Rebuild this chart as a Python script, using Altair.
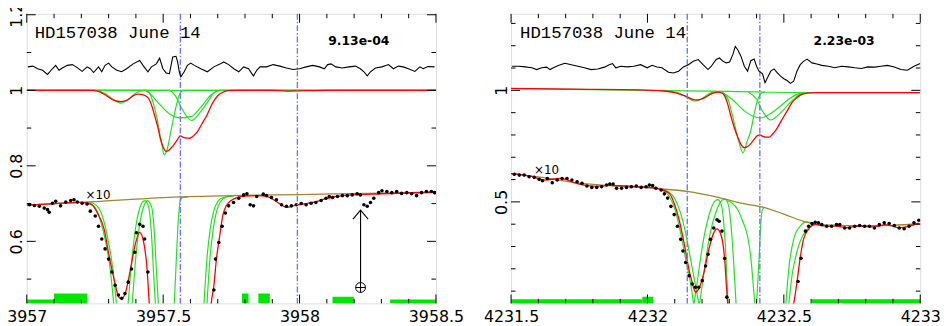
import altair as alt
import pandas as pd

FONT = "DejaVu Sans"
MONO = "Liberation Mono"
RED = "#ff0000"
GREEN = "#22e222"
BAR = "#00e600"
BLUE = "#7474ff"
OLIVE = "#a08530"
W, H = 414, 293

# ================= Left panel =================
L_xdom = [3957.0, 3958.5]
L_ydom = [0.4357, 1.2025]
L_xlabels = [3957.0, 3957.5, 3958.0, 3958.5]
L_ylabels = [0.6, 0.8, 1.0, 1.2]
L_xminor = [3957.1, 3957.2, 3957.3, 3957.4, 3957.6, 3957.7, 3957.8, 3957.9,
            3958.1, 3958.2, 3958.3, 3958.4]
L_yminor = [0.5, 0.7, 0.9, 1.1]
L_vlines = [3957.563, 3957.992]

L_resid = [(3957.004,1.062),(3957.022,1.064),(3957.040,1.057),(3957.058,1.053),(3957.076,1.042),(3957.094,1.057),
 (3957.106,1.066),(3957.118,1.053),(3957.130,1.059),(3957.149,1.066),(3957.167,1.068),(3957.185,1.060),
 (3957.203,1.050),(3957.221,1.062),(3957.233,1.057),(3957.245,1.047),(3957.263,1.062),(3957.275,1.049),
 (3957.287,1.066),(3957.300,1.072),(3957.312,1.062),(3957.330,1.053),(3957.348,1.049),(3957.366,1.057),
 (3957.390,1.070),(3957.414,1.079),(3957.426,1.066),(3957.444,1.049),(3957.457,1.062),(3957.475,1.070),
 (3957.487,1.085),(3957.499,1.057),(3957.511,1.046),(3957.523,1.044),(3957.535,1.088),(3957.547,1.090),
 (3957.553,1.075),(3957.559,1.049),(3957.565,1.036),(3957.577,1.049),(3957.589,1.066),(3957.601,1.072),
 (3957.614,1.066),(3957.638,1.057),(3957.662,1.049),(3957.686,1.062),(3957.710,1.070),(3957.722,1.075),
 (3957.740,1.068),(3957.759,1.057),(3957.777,1.049),(3957.795,1.062),(3957.813,1.057),(3957.825,1.044),
 (3957.831,1.038),(3957.843,1.053),(3957.855,1.062),(3957.879,1.062),(3957.903,1.068),(3957.928,1.064),
 (3957.952,1.059),(3957.976,1.055),(3958.000,1.057),(3958.024,1.062),(3958.048,1.066),(3958.073,1.062),
 (3958.091,1.057),(3958.103,1.068),(3958.115,1.070),(3958.133,1.062),(3958.157,1.059),(3958.181,1.062),
 (3958.205,1.064),(3958.223,1.057),(3958.236,1.049),(3958.248,1.038),(3958.260,1.049),(3958.278,1.059),
 (3958.302,1.062),(3958.326,1.068),(3958.344,1.057),(3958.362,1.064),(3958.380,1.062),(3958.399,1.057),
 (3958.423,1.050),(3958.441,1.062),(3958.453,1.057),(3958.471,1.063),(3958.495,1.062)]

L_model = [(3957.0,1.0),(3957.243,1.0),(3957.27,0.995),(3957.293,0.985),(3957.319,0.974),(3957.344,0.970),
 (3957.370,0.975),(3957.391,0.986),(3957.409,0.990),(3957.428,0.988),(3957.446,0.979),(3957.460,0.955),
 (3957.471,0.927),(3957.482,0.898),(3957.489,0.874),(3957.500,0.850),(3957.511,0.838),(3957.522,0.842),
 (3957.536,0.853),(3957.551,0.868),(3957.562,0.879),(3957.580,0.874),(3957.598,0.873),(3957.612,0.880),
 (3957.627,0.892),(3957.645,0.915),(3957.659,0.932),(3957.681,0.966),(3957.699,0.985),(3957.714,0.993),
 (3957.739,0.999),(3957.764,1.0),(3957.90,1.0),(3957.95,0.998),(3958.02,0.999),(3958.1,1.0),(3958.5,1.0)]

L_comp_a = [(3957.0,1.0),(3957.25,1.0),(3957.29,0.990),(3957.32,0.974),(3957.344,0.966),(3957.37,0.974),
 (3957.395,0.990),(3957.43,1.0),(3958.5,1.0)]
L_comp_b = [(3957.0,1.0),(3957.44,1.0),(3957.455,0.985),(3957.477,0.927),(3957.495,0.857),(3957.504,0.829),
 (3957.513,0.840),(3957.531,0.901),(3957.549,0.962),(3957.562,0.992),(3957.574,1.0),(3958.5,1.0)]
L_comp_c = [(3957.0,1.0),(3957.43,1.0),(3957.453,0.990),(3957.483,0.966),(3957.519,0.940),(3957.562,0.927),
 (3957.604,0.931),(3957.640,0.957),(3957.676,0.988),(3957.71,1.0),(3958.5,1.0)]
L_comp_d = [(3957.0,1.0),(3957.52,1.0),(3957.545,0.985),(3957.567,0.953),(3957.604,0.920),(3957.634,0.940),
 (3957.664,0.970),(3957.695,0.998),(3957.72,1.0),(3958.5,1.0)]

L_cont10 = [(3957.0,0.696),(3957.25,0.705),(3957.5,0.716),(3957.75,0.721),(3958.0,0.724),(3958.25,0.727),(3958.5,0.730)]
L_model10 = [(3957.0,0.696),(3957.1,0.700),(3957.2,0.703),(3957.236,0.698),(3957.260,0.674),(3957.284,0.631),
 (3957.302,0.561),(3957.320,0.500),(3957.338,0.452),(3957.347,0.448),(3957.362,0.465),(3957.380,0.526),
 (3957.399,0.596),(3957.414,0.624),(3957.429,0.596),(3957.441,0.526),(3957.449,0.435),(3957.455,0.38),
 (3957.67,0.38),(3957.676,0.435),(3957.686,0.483),(3957.695,0.552),(3957.707,0.613),(3957.718,0.666),
 (3957.737,0.700),(3957.761,0.713),(3957.797,0.720),(3957.85,0.721),(3957.879,0.719),(3957.916,0.705),
 (3957.952,0.690),(3957.988,0.696),(3958.024,0.700),(3958.060,0.705),(3958.097,0.713),(3958.145,0.720),
 (3958.3,0.726),(3958.5,0.730)]
L_g10_1 = [(3957.22,0.704),(3957.25,0.690),(3957.27,0.655),(3957.29,0.596),(3957.305,0.530),(3957.318,0.440),(3957.325,0.38)]
L_g10_2 = [(3957.23,0.705),(3957.26,0.692),(3957.28,0.660),(3957.30,0.596),(3957.315,0.530),(3957.328,0.440),(3957.335,0.38)]
L_g10_3 = [(3957.365,0.38),(3957.372,0.44),(3957.385,0.55),(3957.40,0.64),(3957.415,0.69),(3957.432,0.708),
 (3957.447,0.69),(3957.457,0.62),(3957.466,0.50),(3957.471,0.44),(3957.475,0.38)]
L_g10_4 = [(3957.38,0.38),(3957.387,0.44),(3957.40,0.56),(3957.415,0.65),(3957.43,0.695),(3957.442,0.708),
 (3957.458,0.69),(3957.468,0.62),(3957.477,0.50),(3957.482,0.44),(3957.486,0.38)]
L_g10_5 = [(3957.535,0.38),(3957.541,0.44),(3957.548,0.55),(3957.555,0.65),(3957.562,0.705),(3957.57,0.716),(3957.59,0.717)]
L_g10_6 = [(3957.645,0.38),(3957.650,0.44),(3957.660,0.55),(3957.672,0.63),(3957.685,0.68),(3957.70,0.705),(3957.72,0.716),(3957.75,0.720)]
L_g10_7 = [(3957.656,0.38),(3957.661,0.44),(3957.671,0.55),(3957.683,0.63),(3957.696,0.68),(3957.71,0.705),(3957.73,0.717),(3957.76,0.720)]

L_dots10 = [(3957.010,0.697),(3957.028,0.695),(3957.046,0.693),(3957.064,0.688),(3957.076,0.684),(3957.082,0.677),
 (3957.094,0.701),(3957.106,0.706),(3957.124,0.694),(3957.143,0.704),(3957.161,0.708),(3957.173,0.710),
 (3957.185,0.704),(3957.203,0.701),(3957.221,0.699),(3957.233,0.680),(3957.251,0.667),(3957.263,0.640),
 (3957.275,0.606),(3957.287,0.580),(3957.300,0.553),(3957.312,0.519),(3957.324,0.484),(3957.336,0.458),
 (3957.348,0.449),(3957.360,0.462),(3957.372,0.492),(3957.384,0.527),(3957.396,0.571),(3957.402,0.623),
 (3957.414,0.645),(3957.426,0.640),(3957.432,0.606),(3957.444,0.519),(3957.686,0.471),(3957.692,0.553),
 (3957.704,0.597),(3957.716,0.640),(3957.728,0.675),(3957.740,0.694),(3957.758,0.703),(3957.777,0.714),
 (3957.795,0.723),(3957.807,0.726),(3957.819,0.697),(3957.831,0.694),(3957.843,0.719),(3957.867,0.725),
 (3957.879,0.721),(3957.897,0.716),(3957.915,0.710),(3957.934,0.697),(3957.952,0.693),(3957.970,0.694),
 (3957.988,0.697),(3958.006,0.700),(3958.024,0.697),(3958.042,0.701),(3958.060,0.703),(3958.079,0.708),
 (3958.097,0.714),(3958.109,0.719),(3958.121,0.716),(3958.139,0.719),(3958.157,0.721),(3958.175,0.721),
 (3958.193,0.723),(3958.211,0.726),(3958.223,0.723),(3958.236,0.697),(3958.248,0.693),(3958.260,0.703),
 (3958.272,0.714),(3958.290,0.729),(3958.302,0.734),(3958.320,0.732),(3958.338,0.729),(3958.356,0.732),
 (3958.374,0.727),(3958.393,0.729),(3958.411,0.726),(3958.429,0.721),(3958.447,0.729),(3958.465,0.732),
 (3958.483,0.732),(3958.495,0.729)]

L_bars = [(3957.0,3957.100,0.4462),(3957.100,3957.221,0.4619),(3957.789,3957.813,0.4619),
          (3957.849,3957.891,0.4619),(3958.121,3958.199,0.4533),(3958.332,3958.5,0.4462)]

L_texts = {"title": ("HD157038 June 14", 3957.029, 1.138),
           "stat": ("9.13e-04", 3958.217, 1.119),
           "x10": ("×10", 3957.261, 0.713)}
L_arrow = {"x": 3958.2236, "y_from": 0.4908, "y_to": 0.6826, "earth_y": 0.4778}

# ================= Right panel =================
R_xdom = [4231.5, 4233.0]
R_ydom = [0.045, 1.343]
R_xlabels = [4231.5, 4232.0, 4232.5, 4233.0]
R_ylabels = [0.5, 1.0]
R_xminor = [4231.6, 4231.7, 4231.8, 4231.9, 4232.1, 4232.2, 4232.3, 4232.4,
            4232.6, 4232.7, 4232.8, 4232.9]
R_yminor = [0.1, 0.2, 0.3, 0.4, 0.6, 0.7, 0.8, 0.9, 1.1, 1.2, 1.3]
R_vlines = [4232.146, 4232.412]

R_resid = [(4231.504,1.108),(4231.528,1.108),(4231.552,1.105),(4231.576,1.101),(4231.594,1.093),(4231.612,1.101),
 (4231.630,1.104),(4231.643,1.093),(4231.655,1.101),(4231.673,1.111),(4231.697,1.121),(4231.721,1.115),
 (4231.745,1.108),(4231.769,1.101),(4231.793,1.093),(4231.818,1.096),(4231.842,1.104),(4231.860,1.115),
 (4231.872,1.120),(4231.884,1.101),(4231.902,1.108),(4231.926,1.105),(4231.950,1.108),(4231.975,1.115),
 (4231.999,1.101),(4232.017,1.112),(4232.035,1.105),(4232.053,1.101),(4232.077,1.081),(4232.095,1.078),
 (4232.114,1.086),(4232.132,1.105),(4232.150,1.115),(4232.168,1.130),(4232.186,1.138),(4232.204,1.115),
 (4232.222,1.093),(4232.234,1.108),(4232.252,1.138),(4232.264,1.145),(4232.277,1.130),(4232.289,1.123),
 (4232.301,1.127),(4232.313,1.160),(4232.322,1.197),(4232.331,1.182),(4232.343,1.152),(4232.355,1.108),
 (4232.367,1.086),(4232.379,1.133),(4232.391,1.140),(4232.400,1.108),(4232.409,1.086),(4232.422,1.074),
 (4232.431,1.034),(4232.440,1.056),(4232.452,1.086),(4232.464,1.096),(4232.476,1.078),(4232.488,1.064),
 (4232.500,1.052),(4232.512,1.044),(4232.524,1.031),(4232.536,1.041),(4232.548,1.086),(4232.560,1.115),
 (4232.572,1.130),(4232.585,1.140),(4232.603,1.123),(4232.621,1.118),(4232.639,1.112),(4232.663,1.108),
 (4232.687,1.101),(4232.711,1.108),(4232.736,1.105),(4232.760,1.101),(4232.784,1.098),(4232.808,1.105),
 (4232.832,1.104),(4232.856,1.108),(4232.880,1.112),(4232.905,1.105),(4232.929,1.093),(4232.953,1.090),
 (4232.977,1.108),(4233.0,1.120)]

R_model = [(4231.5,1.009),(4231.72,1.005),(4231.96,1.002),(4232.06,0.997),(4232.10,0.990),(4232.138,0.975),
 (4232.174,0.957),(4232.195,0.960),(4232.21,0.967),(4232.235,0.985),(4232.258,0.992),(4232.272,0.988),
 (4232.283,0.975),(4232.295,0.935),(4232.307,0.879),(4232.319,0.830),(4232.331,0.790),(4232.343,0.757),
 (4232.355,0.743),(4232.367,0.748),(4232.379,0.761),(4232.391,0.780),(4232.403,0.797),(4232.412,0.800),
 (4232.421,0.795),(4232.434,0.790),(4232.446,0.790),(4232.458,0.803),(4232.470,0.820),(4232.49,0.862),
 (4232.512,0.908),(4232.53,0.945),(4232.548,0.967),(4232.566,0.982),(4232.584,0.987),(4232.62,0.990),(4233.0,0.990)]
R_cont = [(4231.5,1.008),(4232.0,1.0),(4232.3,0.995),(4232.6,0.99),(4233.0,0.99)]
R_comp_a = [(4232.06,0.999),(4232.11,0.99),(4232.145,0.968),(4232.174,0.951),(4232.20,0.962),(4232.225,0.985),(4232.25,0.995)]
R_comp_b = [(4232.27,0.995),(4232.295,0.96),(4232.319,0.849),(4232.335,0.77),(4232.35,0.72),(4232.365,0.77),
 (4232.379,0.82),(4232.392,0.90),(4232.403,0.953),(4232.416,0.985),(4232.43,0.993)]
R_comp_c = [(4232.27,0.995),(4232.31,0.96),(4232.355,0.908),(4232.385,0.885),(4232.415,0.876),(4232.45,0.895),
 (4232.488,0.930),(4232.52,0.962),(4232.548,0.982),(4232.58,0.99)]
R_comp_d = [(4232.37,0.993),(4232.40,0.96),(4232.425,0.90),(4232.452,0.867),(4232.48,0.89),(4232.512,0.930),
 (4232.54,0.965),(4232.565,0.985),(4232.59,0.99)]

R_cont10 = [(4231.5,0.627),(4231.6,0.612),(4231.742,0.585),(4231.9,0.570),(4232.031,0.560),(4232.152,0.546),
 (4232.25,0.523),(4232.37,0.488),(4232.415,0.479),(4232.5,0.445),(4232.572,0.413),(4232.633,0.398),
 (4232.7,0.395),(4232.8,0.393),(4232.9,0.395),(4233.0,0.402)]
R_model10 = [(4231.5,0.627),(4231.572,0.615),(4231.621,0.598),(4231.681,0.605),(4231.742,0.582),(4231.814,0.570),
 (4231.862,0.574),(4231.923,0.572),(4231.983,0.567),(4232.031,0.562),(4232.056,0.553),(4232.080,0.538),
 (4232.098,0.494),(4232.116,0.420),(4232.134,0.317),(4232.152,0.198),(4232.164,0.139),(4232.176,0.095),
 (4232.188,0.110),(4232.207,0.183),(4232.225,0.287),(4232.243,0.361),(4232.255,0.379),(4232.271,0.346),
 (4232.283,0.243),(4232.291,0.095),(4232.297,0.02),(4232.53,0.02),(4232.536,0.045),(4232.548,0.140),
 (4232.560,0.250),(4232.572,0.332),(4232.590,0.376),(4232.614,0.398),(4232.657,0.391),(4232.693,0.391),
 (4232.729,0.384),(4232.777,0.391),(4232.826,0.388),(4232.874,0.398),(4232.922,0.384),(4232.959,0.391),
 (4232.995,0.405)]
R_g10_1 = [(4232.03,0.561),(4232.05,0.556),(4232.08,0.525),(4232.10,0.47),(4232.12,0.37),(4232.14,0.245),(4232.16,0.12),(4232.172,0.02)]
R_g10_2 = [(4232.05,0.556),(4232.07,0.550),(4232.10,0.515),(4232.12,0.455),(4232.14,0.36),(4232.16,0.23),(4232.18,0.10),(4232.192,0.02)]
R_g10_3 = [(4232.168,0.02),(4232.18,0.12),(4232.195,0.25),(4232.21,0.36),(4232.228,0.45),(4232.245,0.50),(4232.258,0.51),
 (4232.27,0.49),(4232.28,0.40),(4232.288,0.25),(4232.296,0.02)]
R_g10_4 = [(4232.188,0.02),(4232.20,0.12),(4232.215,0.25),(4232.23,0.36),(4232.25,0.45),(4232.268,0.50),(4232.283,0.512),
 (4232.296,0.49),(4232.306,0.40),(4232.315,0.25),(4232.326,0.02)]
R_g10_5 = [(4232.29,0.505),(4232.31,0.495),(4232.331,0.465),(4232.35,0.41),(4232.367,0.346),(4232.378,0.26),(4232.385,0.169),(4232.395,0.02)]
R_g10_6 = [(4232.399,0.02),(4232.409,0.243),(4232.415,0.391),(4232.421,0.465),(4232.43,0.475)]
R_g10_7 = [(4232.506,0.02),(4232.518,0.199),(4232.536,0.332),(4232.560,0.391),(4232.585,0.410),(4232.61,0.400)]
R_g10_8 = [(4232.516,0.02),(4232.530,0.169),(4232.554,0.302),(4232.585,0.376),(4232.621,0.400),(4232.65,0.395)]

R_dots10 = [(4231.512,0.624),(4231.530,0.620),(4231.548,0.620),(4231.566,0.613),(4231.585,0.610),(4231.603,0.601),
 (4231.615,0.595),(4231.633,0.605),(4231.651,0.586),(4231.669,0.598),(4231.687,0.605),(4231.705,0.605),
 (4231.723,0.598),(4231.742,0.590),(4231.760,0.583),(4231.778,0.571),(4231.796,0.565),(4231.814,0.565),
 (4231.832,0.568),(4231.850,0.576),(4231.862,0.580),(4231.874,0.580),(4231.887,0.561),(4231.905,0.561),
 (4231.923,0.565),(4231.941,0.568),(4231.959,0.571),(4231.977,0.565),(4231.995,0.568),(4232.007,0.576),
 (4232.019,0.573),(4232.031,0.561),(4232.050,0.553),(4232.062,0.536),(4232.074,0.517),(4232.086,0.480),
 (4232.098,0.443),(4232.110,0.391),(4232.122,0.332),(4232.130,0.280),(4232.140,0.228),(4232.152,0.169),
 (4232.164,0.132),(4232.176,0.117),(4232.188,0.117),(4232.201,0.147),(4232.213,0.213),(4232.222,0.265),
 (4232.231,0.332),(4232.243,0.383),(4232.255,0.420),(4232.263,0.413),(4232.273,0.369),(4232.283,0.246),
 (4232.291,0.073),(4232.552,0.143),(4232.563,0.247),(4232.579,0.369),(4232.591,0.391),(4232.603,0.403),
 (4232.615,0.409),(4232.627,0.406),(4232.639,0.398),(4232.657,0.391),(4232.675,0.391),(4232.693,0.398),
 (4232.705,0.398),(4232.723,0.383),(4232.741,0.383),(4232.760,0.391),(4232.778,0.394),(4232.796,0.391),
 (4232.814,0.391),(4232.832,0.383),(4232.850,0.398),(4232.868,0.406),(4232.886,0.403),(4232.905,0.394),
 (4232.923,0.383),(4232.941,0.380),(4232.959,0.391),(4232.977,0.406),(4232.995,0.418)]

R_bars = [(4231.5,4231.981,0.064),(4231.981,4232.021,0.075),(4232.603,4233.0,0.064)]

R_texts = {"title": ("HD157038 June 14", 4231.533, 1.233),
           "stat": ("2.23e-03", 4232.721, 1.201),
           "x10": ("×10", 4231.630, 0.624)}

ARROW_HEAD = "M-0.85,1L0,0L0.85,1"
EARTH = "M-1,0A1,1,0,1,1,1,0A1,1,0,1,1,-1,0M-1,0L1,0M0,-1L0,1"


def pts_df(series):
    rows = []
    for name, pts in series.items():
        for x, y in pts:
            rows.append({"x": x, "y": y, "s": name})
    return pd.DataFrame(rows)


def build_panel(P):
    xs = alt.Scale(domain=P["xdom"], nice=False, zero=False)
    ys = alt.Scale(domain=P["ydom"], nice=False, zero=False)
    X = alt.X("x:Q", scale=xs, axis=alt.Axis(
        values=P["xlabels"], format="~g", title=None, ticks=False, domain=False, grid=False,
        labelFlush=False, labelOverlap=False, labelPadding=5, labelFont=FONT,
        labelFontSize=16, labelColor="black"))
    Y = alt.Y("y:Q", scale=ys, axis=alt.Axis(
        values=P["ylabels"], format="~g", title=None, ticks=False, domain=False, grid=False,
        labelAngle=270, labelAlign="center", labelBaseline="alphabetic", labelPadding=5,
        labelOverlap=False, labelFont=FONT, labelFontSize=16, labelColor="black"))

    def lines(series, color, width, interp="monotone"):
        return alt.Chart(pts_df(series)).mark_line(
            color=color, strokeWidth=width, interpolate=interp, clip=True
        ).encode(x=X, y=Y, detail="s:N")

    layers = []
    bars = pd.DataFrame({"x": [b[0] for b in P["bars"]], "x2": [b[1] for b in P["bars"]],
                         "y": [P["ydom"][0]] * len(P["bars"]), "y2": [b[2] for b in P["bars"]]})
    layers.append(alt.Chart(bars).mark_rect(color=BAR, clip=True).encode(
        x=X, x2="x2:Q", y=Y, y2="y2:Q"))
    layers.append(lines(P["greens"], GREEN, 1.2))
    layers.append(lines({"c10": P["cont10"]}, OLIVE, 1.3))
    layers.append(lines(P["reds"], RED, 1.3))
    layers.append(alt.Chart(pts_df({"d": P["dots"]})).mark_circle(
        color="black", size=13, opacity=1, clip=True).encode(x=X, y=Y))
    layers.append(alt.Chart(pd.DataFrame({"x": P["vlines"]})).mark_rule(
        color=BLUE, strokeWidth=1.4, strokeDash=[6, 2, 1.5, 2]).encode(x=X))
    layers.append(lines({"r": P["resid"]}, "black", 1.1, "linear"))

    # inward ticks on all four sides
    for vals, ln in ((P["xlabels"], 9), (P["xminor"], 4.5)):
        df = pd.DataFrame({"x": vals})
        layers.append(alt.Chart(df).mark_rule(color="black", strokeWidth=1).encode(
            x=X, y=alt.value(H), y2=alt.value(H - ln)))
        layers.append(alt.Chart(df).mark_rule(color="black", strokeWidth=1).encode(
            x=X, y=alt.value(0), y2=alt.value(ln)))
    for vals, ln in ((P["ylabels"], 9), (P["yminor"], 4.5)):
        df = pd.DataFrame({"y": vals})
        layers.append(alt.Chart(df).mark_rule(color="black", strokeWidth=1).encode(
            y=Y, x=alt.value(0), x2=alt.value(ln)))
        layers.append(alt.Chart(df).mark_rule(color="black", strokeWidth=1).encode(
            y=Y, x=alt.value(W), x2=alt.value(W - ln)))

    T = P["texts"]
    def txt(key, **kw):
        t, x, y = T[key]
        return alt.Chart(pd.DataFrame({"x": [x], "y": [y], "t": [t]})).mark_text(
            baseline="alphabetic", color="black", **kw).encode(x=X, y=Y, text="t:N")
    layers.append(txt("title", align="left", font=MONO, fontSize=17.5))
    layers.append(txt("stat", align="center", font=FONT, fontSize=12.5, fontWeight="bold"))
    layers.append(txt("x10", align="center", font=FONT, fontSize=12))

    if P.get("arrow"):
        A = P["arrow"]
        layers.append(alt.Chart(pd.DataFrame({"x": [A["x"]], "y": [A["y_from"]], "y2": [A["y_to"]]}))
                      .mark_rule(color="black", strokeWidth=1.1).encode(x=X, y=Y, y2="y2:Q"))
        layers.append(alt.Chart(pd.DataFrame({"x": [A["x"]], "y": [A["y_to"]]}))
                      .mark_point(shape=ARROW_HEAD, size=324, filled=False, color="black",
                                  strokeWidth=1.1, opacity=1).encode(x=X, y=Y))
        layers.append(alt.Chart(pd.DataFrame({"x": [A["x"]], "y": [A["earth_y"]]}))
                      .mark_point(shape=EARTH, size=100, filled=False, color="black",
                                  strokeWidth=1, opacity=1).encode(x=X, y=Y))

    return alt.layer(*layers).properties(width=W, height=H)


left = build_panel({
    "xdom": L_xdom, "ydom": L_ydom, "xlabels": L_xlabels, "ylabels": L_ylabels,
    "xminor": L_xminor, "yminor": L_yminor, "vlines": L_vlines, "bars": L_bars,
    "greens": {"a": L_comp_a, "b": L_comp_b, "c": L_comp_c, "d": L_comp_d,
               "g1": L_g10_1, "g2": L_g10_2, "g3": L_g10_3, "g4": L_g10_4,
               "g5": L_g10_5, "g6": L_g10_6, "g7": L_g10_7},
    "cont10": L_cont10, "reds": {"m": L_model, "m10": L_model10}, "dots": L_dots10,
    "resid": L_resid, "texts": L_texts, "arrow": L_arrow})

right = build_panel({
    "xdom": R_xdom, "ydom": R_ydom, "xlabels": R_xlabels, "ylabels": R_ylabels,
    "xminor": R_xminor, "yminor": R_yminor, "vlines": R_vlines, "bars": R_bars,
    "greens": {"cont": R_cont, "a": R_comp_a, "b": R_comp_b, "c": R_comp_c, "d": R_comp_d,
               "g1": R_g10_1, "g2": R_g10_2, "g3": R_g10_3, "g4": R_g10_4,
               "g5": R_g10_5, "g6": R_g10_6, "g7": R_g10_7, "g8": R_g10_8},
    "cont10": R_cont10, "reds": {"m": R_model, "m10": R_model10}, "dots": R_dots10,
    "resid": R_resid, "texts": R_texts})

chart = alt.hconcat(left, right, spacing=76, bounds="flush").properties(
    padding={"left": -2, "top": -9, "right": 0, "bottom": 0}
).configure_view(stroke="black", strokeWidth=1).configure(background="white")

chart.save("out.html", embed_options={"renderer": "svg", "actions": False})
